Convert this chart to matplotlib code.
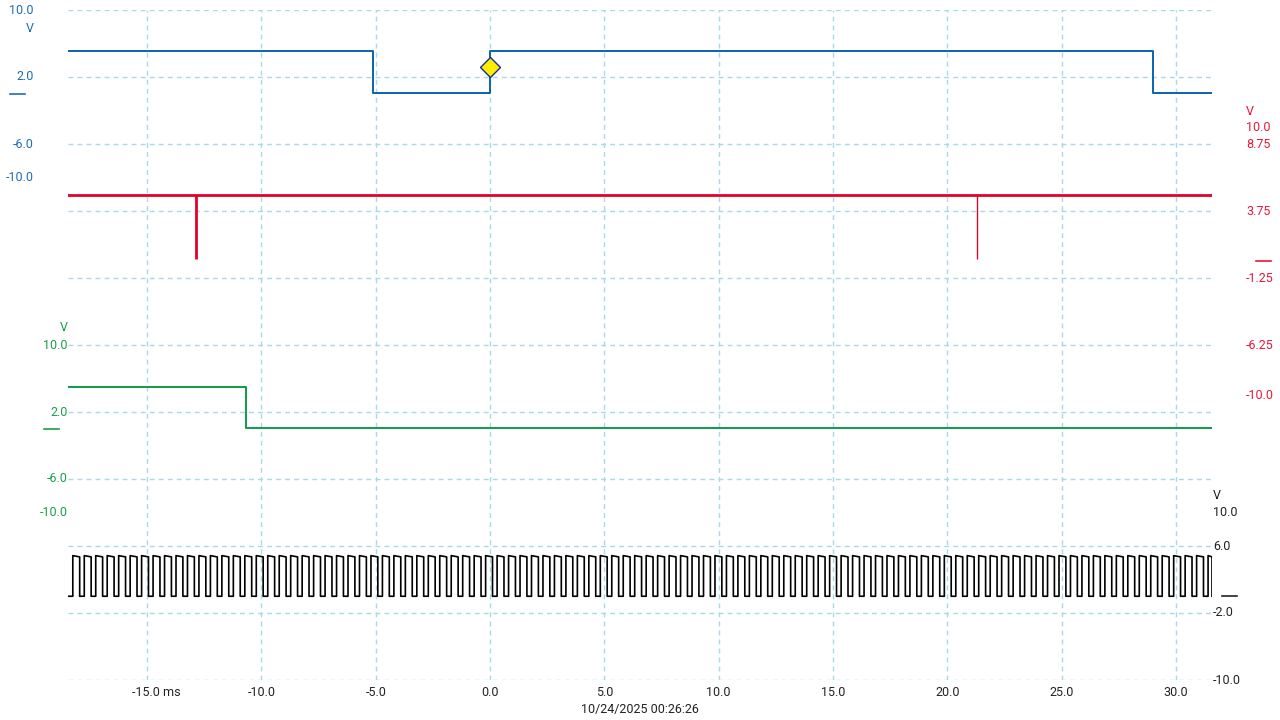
import numpy as np
import matplotlib
matplotlib.use("Agg")
import matplotlib.pyplot as plt
from matplotlib.transforms import ScaledTranslation

plt.rcParams['font.family'] = ['Roboto', 'DejaVu Sans']

# time window (ms)
t_start, t_end = -18.46, 31.58
time_ticks = [-15, -10, -5, 0, 5, 10, 15, 20, 25, 30]
time_labels = ["-15.0 ms", "-10.0", "-5.0", "0.0", "5.0", "10.0", "15.0", "20.0", "25.0", "30.0"]
timestamp = "10/24/2025 00:26:26"

# channel 1 (blue): edge times and levels (V)
ch1_times = [t_start, -5.1, 0.0, 29.0, t_end]
ch1_levels = [5.1, 0.05, 5.1, 0.05, 0.05]
ch1_labels = ["10.0", "2.0", "-6.0", "-10.0"]
ch1_label_volts = [10.0, 2.0, -6.0, -10.0]

# channel 2 (red): baseline with two short dips
ch2_level = 4.94
ch2_dip_times = [-12.86, 21.3]
ch2_dip_low = 0.17
ch2_labels = ["10.0", "8.75", "3.75", "-1.25", "-6.25", "-10.0"]
ch2_label_volts = [10.0, 8.75, 3.75, -1.25, -6.25, -10.0]

# channel 3 (green)
ch3_times = [t_start, -10.67, t_end]
ch3_levels = [4.99, 0.05, 0.05]
ch3_labels = ["10.0", "2.0", "-6.0", "-10.0"]
ch3_label_volts = [10.0, 2.0, -6.0, -10.0]

# channel 4 (black): clock
ch4_first_rise = -18.25
ch4_period = 0.5016
ch4_high_frac = 0.6
ch4_high = [4.85, 4.7]
ch4_low = 0.0
ch4_labels = ["10.0", "6.0", "-2.0", "-10.0"]
ch4_label_volts = [10.0, 6.0, -2.0, -10.0]

# trigger point
trig_t, trig_v = 0.0, 3.19

# per channel: zero position (divisions from bottom) and V/div
ch1_zero, ch1_scale = 8.75, 8.0
ch2_zero, ch2_scale = 6.25, 5.0
ch3_zero, ch3_scale = 3.75, 8.0
ch4_zero, ch4_scale = 1.25, 8.0

c_blue = "#0a62ad"
c_blue_txt = "#1f6db5"
c_red = "#e4002b"
c_red_txt = "#e8173c"
c_green = "#0f9a48"
c_green_txt = "#1a9e4a"
c_grid = "#a6dae6"


def div(v, zero, scale):
    return zero + np.asarray(v, dtype=float) / scale


fig = plt.figure(figsize=(12.8, 7.2), dpi=100)
ax = fig.add_axes([68 / 1280, 40 / 720, 1144 / 1280, 670 / 720])
ax.set_xlim(t_start, t_end)
ax.set_ylim(0, 10)
for s in ax.spines.values():
    s.set_visible(False)

# grid
for t in time_ticks:
    ax.axvline(t, color=c_grid, lw=1, ls=(0, (3.5, 3)), zorder=0)
for d in range(0, 11):
    ax.axhline(d, color=c_grid, lw=1, ls=(0, (3.5, 3)), zorder=0)

# traces
ax.plot(ch1_times, div(ch1_levels, ch1_zero, ch1_scale), drawstyle='steps-post',
        color=c_blue, lw=1.4, zorder=3)

ax.plot([t_start, t_end], div([ch2_level, ch2_level], ch2_zero, ch2_scale),
        color=c_red, lw=2.0, zorder=3)
ax.vlines(ch2_dip_times[0], div(ch2_dip_low, ch2_zero, ch2_scale),
          div(ch2_level, ch2_zero, ch2_scale), color=c_red, lw=2.0, zorder=3)
ax.vlines(ch2_dip_times[1], div(ch2_dip_low, ch2_zero, ch2_scale),
          div(ch2_level, ch2_zero, ch2_scale), color="#c8102e", lw=1.0, zorder=3)

ax.plot(ch3_times, div(ch3_levels, ch3_zero, ch3_scale), drawstyle='steps-post',
        color=c_green, lw=1.4, zorder=3)

# clock pulse train built from edges
rises = np.arange(ch4_first_rise, t_end, ch4_period)
ct = [t_start]
cv = [ch4_low]
for r in rises:
    f = min(r + ch4_period * ch4_high_frac, t_end)
    ct += [r, r, f, f]
    cv += [ch4_low, ch4_high[0], ch4_high[1], ch4_low]
ct.append(t_end)
cv.append(ch4_low)
ax.plot(ct, div(cv, ch4_zero, ch4_scale), color="black", lw=1.2, zorder=3)

# trigger marker
ax.plot([trig_t], [div(trig_v, ch1_zero, ch1_scale)], marker='D', ms=10,
        mfc="#ffee00", mec="#1a2aa0", mew=1.0, zorder=5)

# x ticks
ax.set_xticks(time_ticks)
ax.set_xticklabels(time_labels, fontsize=9, color="#222222")
ax.tick_params(axis='x', length=0, pad=4)
ax.set_yticks([])
lab0 = ax.get_xticklabels()[0]
lab0.set_transform(lab0.get_transform() + ScaledTranslation(9 / 100, 0, fig.dpi_scale_trans))

fig.text(640 / 1280, 1 - 709 / 720, timestamp, ha='center', va='center',
         fontsize=9, color="#222222")


def px_y(d):
    # division -> figure pixel row from the top
    return 680 - d * 67


def put(x, d, s, color, ha):
    fig.text(x / 1280, 1 - px_y(d) / 720, s, ha=ha, va='center', fontsize=9, color=color)


def marker(x0, x1, d, color):
    y = 1 - px_y(d) / 720
    fig.add_artist(plt.Line2D([x0 / 1280, x1 / 1280], [y, y], color=color, lw=1.2))


# channel 1 labels (left)
for s, v in zip(ch1_labels, ch1_label_volts):
    put(34, div(v, ch1_zero, ch1_scale), s, c_blue_txt, 'right')
put(34, div(10.0, ch1_zero, ch1_scale) - 18 / 67, "V", c_blue_txt, 'right')
marker(10, 25, ch1_zero, c_blue_txt)

# channel 2 labels (right)
for s, v in zip(ch2_labels, ch2_label_volts):
    put(1246, div(v, ch2_zero, ch2_scale), s, c_red_txt, 'left')
put(1246, div(10.0, ch2_zero, ch2_scale) + 16 / 67, "V", c_red_txt, 'left')
marker(1256, 1271, ch2_zero, c_red_txt)

# channel 3 labels (left)
for s, v in zip(ch3_labels, ch3_label_volts):
    put(68, div(v, ch3_zero, ch3_scale), s, c_green_txt, 'right')
put(68, div(10.0, ch3_zero, ch3_scale) + 17 / 67, "V", c_green_txt, 'right')
marker(44, 59, ch3_zero, c_green_txt)

# channel 4 labels (right)
for s, v in zip(ch4_labels, ch4_label_volts):
    put(1213, div(v, ch4_zero, ch4_scale), s, "#222222", 'left')
put(1213, div(10.0, ch4_zero, ch4_scale) + 17 / 67, "V", "#222222", 'left')
marker(1222, 1237, ch4_zero, "#222222")

fig.savefig("out.png", dpi=100, facecolor="white")
